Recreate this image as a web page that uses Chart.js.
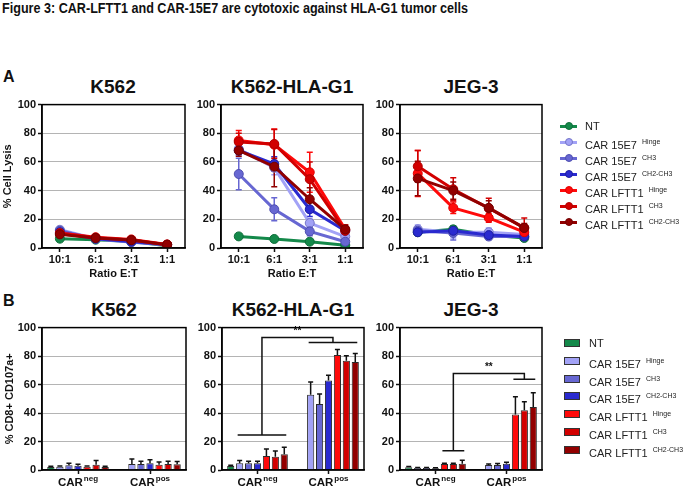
<!DOCTYPE html>
<html>
<head>
<meta charset="utf-8">
<script src="https://cdn.jsdelivr.net/npm/chart.js@4.4.1/dist/chart.umd.min.js"></script>
<style>
  body { margin: 0; width: 688px; height: 486px; background: #fff; position: relative; overflow: hidden;
         font-family: "Liberation Sans", Arial, sans-serif; color: #111; }
  canvas { position: absolute; }
  .txt { position: absolute; white-space: nowrap; }
  #fig-title { left: 2px; top: 0px; font: bold 14px "Liberation Sans Narrow", "Liberation Sans", sans-serif;
               transform-origin: 0 0; line-height: 17px; }
  .panel { font: bold 16px "Liberation Sans", sans-serif; }
  .ctitle { font: bold 19px "Liberation Sans", sans-serif; line-height: 20px; text-align: center; width: 150px; }
  .legend { position: absolute; font: 11px "Liberation Sans", sans-serif; color: #222; }
  .legend .row { position: absolute; left: 0; white-space: nowrap; height: 14px; line-height: 14px; }
  .legend sup { font-size: 7px; vertical-align: 5px; margin-left: 2px; }
  .mk-line { position: absolute; width: 17px; height: 3px; top: 5.5px; }
  .mk-dot { position: absolute; width: 8px; height: 8px; border-radius: 50%; top: 3px; left: 4.5px; box-sizing: border-box; }
  .mk-box { position: absolute; width: 16px; height: 8px; top: 3px; box-sizing: border-box; border: 1px solid #333; }
</style>
</head>
<body>
<div id="fig-title" class="txt">Figure 3: CAR-LFTT1 and CAR-15E7 are cytotoxic against HLA-G1 tumor cells</div>
<div class="txt panel" style="left:3px;top:68px;">A</div>
<div class="txt panel" style="left:3px;top:292px;">B</div>

<div class="txt ctitle" style="left:38px;top:77px;">K562</div>
<div class="txt ctitle" style="left:217px;top:77px;">K562-HLA-G1</div>
<div class="txt ctitle" style="left:396px;top:77px;">JEG-3</div>
<div class="txt ctitle" style="left:39px;top:300px;">K562</div>
<div class="txt ctitle" style="left:218px;top:300px;">K562-HLA-G1</div>
<div class="txt ctitle" style="left:396px;top:300px;">JEG-3</div>

<canvas id="lineK562" width="193" height="188" style="left:0px;top:96px;"></canvas>
<canvas id="lineHLA" width="190" height="188" style="left:181px;top:96px;"></canvas>
<canvas id="lineJEG" width="190" height="188" style="left:360px;top:96px;"></canvas>
<canvas id="barK562" width="194" height="167" style="left:0px;top:319px;"></canvas>
<canvas id="barHLA" width="190" height="167" style="left:182px;top:319px;"></canvas>
<canvas id="barJEG" width="190" height="167" style="left:360px;top:319px;"></canvas>

<div id="legendA" class="legend" style="left:560px;top:119px;"></div>
<div id="legendB" class="legend" style="left:564px;top:336px;"></div>

<script>
// ---- data ----
const ratios = ['10:1', '6:1', '3:1', '1:1'];
const carGroups = [['CAR', 'neg'], ['CAR', 'pos']];

const seriesNames = ['NT', 'CAR 15E7', 'CAR 15E7', 'CAR 15E7', 'CAR LFTT1', 'CAR LFTT1', 'CAR LFTT1'];
const seriesSups = ['', 'Hinge', 'CH3', 'CH2-CH3', 'Hinge', 'CH3', 'CH2-CH3'];
const seriesColors = ['#14894a', '#a2a2f6', '#6767d2', '#2a2acf', '#ff0a0a', '#d20000', '#920000'];
const seriesEdges = ['#0e6e3a', '#7474c8', '#4e4eb0', '#1c1ca0', '#e00000', '#b00000', '#700000'];

// A: % cell lysis (rows = series, cols = ratios)
const lysisK562 = [
  [6.5, 5.8, 4.5, 1.5], [12.7, 6.5, 4, 2.2], [12, 6.5, 4.2, 2.2], [11, 6.5, 4.5, 2.2],
  [10.4, 7.5, 6, 2.5], [10, 7.2, 5.5, 2.3], [9.5, 7, 5.5, 2.3]
];
const lysisK562Err = [
  [1.5, 1, 1, 0.5], [1.5, 1, 1, 0.5], [1, 1, 1, 0.5], [1, 1, 1, 0.5],
  [1, 1, 1, 0.5], [1, 1, 1, 0.5], [1, 1, 1, 0.5]
];
const lysisHLA = [
  [8.1, 6.3, 4.4, 2], [69, 56, 17.4, 8], [51.6, 27, 11.6, 4.4], [68, 58.6, 27, 12],
  [75, 72, 52.8, 13], [74, 72.6, 48, 12], [68, 56.7, 34, 13]
];
const lysisHLAErr = [
  [1, 1, 1, 0.5], [3, 5, 3, 2], [11, 8, 3, 2], [3, 5, 5, 3],
  [7, 11, 14, 3], [6, 10, 12, 3], [4, 14, 8, 3]
];
const lysisJEG = [
  [11, 13, 9, 7], [13, 11, 11, 9.5], [12, 10.5, 8, 8], [11, 12, 9, 8],
  [52, 28, 21, 11], [57, 41, 27.7, 14], [48.5, 40, 28, 14]
];
const lysisJEGErr = [
  [1, 1, 1, 1], [3, 4, 3, 2], [2, 5, 2, 2], [2, 3, 2, 2],
  [16, 4, 3, 2], [11, 8, 7, 7], [12, 6, 5, 3]
];

// B: % CD8+ CD107a+ (rows = series, cols = CARneg, CARpos)
const degK562 = [[2.1, null], [2.3, 4.2], [3.3, 4.2], [3, 4.7], [2.3, 3.7], [3.7, 4.2], [2.1, 4]];
const degK562Err = [[0.5, 0], [0.5, 3.5], [1.5, 2], [1, 2.5], [0.5, 2], [3, 2], [0.5, 2]];
const degHLA = [[2.8, null], [4.7, 52.8], [4.7, 46.3], [4.7, 62.8], [9.8, 80.7], [9.3, 76.7], [11, 75.8]];
const degHLAErr = [[0.5, 0], [2, 9], [1.5, 7], [1.5, 3.7], [5, 4], [4, 3.5], [5, 6]];
const degJEG = [[1.9, null], [1.4, 3.5], [1.4, 3.5], [1.2, 4.4], [4.2, 39], [4.2, 42], [4.4, 44.3]];
const degJEGErr = [[0.5, 0], [0.3, 0.8], [0.3, 1], [0.3, 1], [0.5, 12.5], [0.5, 6], [2.5, 10]];

// significance brackets: [category, first series, last series, y]
const sigHLA = [{ low: [0, 1, 6, 24.5], high: [1, 1, 6, 89.5], top: 93, label: '**' }];
const sigJEG = [{ low: [0, 4, 6, 13.5], high: [1, 4, 6, 63.8], top: 67.8, label: '**' }];

// ---- plugins ----
const frame = {
  id: 'frame',
  afterDraw(chart) {
    const a = chart.chartArea, ctx = chart.ctx;
    ctx.save();
    ctx.strokeStyle = '#000';
    ctx.lineWidth = 1.5;
    ctx.strokeRect(a.left, a.top, a.right - a.left, a.bottom - a.top);
    ctx.restore();
  }
};

function drawErrors(chart, opts) {
  const ctx = chart.ctx, y = chart.scales.y;
  chart.data.datasets.forEach((ds, i) => {
    if (!ds.errors) return;
    const meta = chart.getDatasetMeta(i);
    ctx.save();
    ctx.strokeStyle = opts.color || ds.borderColor;
    ctx.lineWidth = opts.width || 1.5;
    meta.data.forEach((el, j) => {
      const v = ds.data[j], e = ds.errors[j];
      if (v == null || !e) return;
      const x = el.x;
      const top = y.getPixelForValue(v + e);
      const bot = opts.up ? y.getPixelForValue(v) : y.getPixelForValue(v - e);
      const c = opts.cap || 3;
      ctx.beginPath();
      ctx.moveTo(x, top); ctx.lineTo(x, bot);
      ctx.moveTo(x - c, top); ctx.lineTo(x + c, top);
      if (!opts.up) { ctx.moveTo(x - c, bot); ctx.lineTo(x + c, bot); }
      ctx.stroke();
    });
    ctx.restore();
  });
}

const errorBars = {
  id: 'errorBars',
  beforeDatasetsDraw(chart, args, opts) { if (!opts.after) drawErrors(chart, opts); },
  afterDatasetsDraw(chart, args, opts) { if (opts.after) drawErrors(chart, opts); }
};

const brackets = {
  id: 'brackets',
  afterDatasetsDraw(chart, args, opts) {
    const list = opts.list || [];
    const y = chart.scales.y, ctx = chart.ctx;
    const span = (b) => [chart.getDatasetMeta(b[1]).data[b[0]].x - 2, chart.getDatasetMeta(b[2]).data[b[0]].x + 2];
    list.forEach(b => {
      const [l1, l2] = span(b.low), [h1, h2] = span(b.high);
      const lm = (l1 + l2) / 2, hm = (h1 + h2) / 2;
      const yl = y.getPixelForValue(b.low[3]), yh = y.getPixelForValue(b.high[3]), yt = y.getPixelForValue(b.top);
      ctx.save();
      ctx.strokeStyle = '#111';
      ctx.lineWidth = 1.5;
      ctx.beginPath();
      ctx.moveTo(l1, yl); ctx.lineTo(l2, yl);
      ctx.moveTo(lm, yl); ctx.lineTo(lm, yt); ctx.lineTo(hm, yt); ctx.lineTo(hm, yh);
      ctx.moveTo(h1, yh); ctx.lineTo(h2, yh);
      ctx.stroke();
      ctx.fillStyle = '#111';
      ctx.font = 'bold 10px "Liberation Sans"';
      ctx.textAlign = 'center';
      ctx.textBaseline = 'bottom';
      ctx.fillText(b.label, (lm + hm) / 2, yt - 1);
      ctx.restore();
    });
  }
};

const supLabels = {
  id: 'supLabels',
  afterDraw(chart, args, opts) {
    if (!opts.labels) return;
    const xs = chart.scales.x, ctx = chart.ctx;
    const base = chart.chartArea.bottom + 15.5;
    ctx.save();
    ctx.fillStyle = '#111';
    ctx.textBaseline = 'alphabetic';
    ctx.textAlign = 'left';
    opts.labels.forEach((lab, i) => {
      const x = xs.getPixelForTick(i);
      ctx.font = 'bold 11.5px "Liberation Sans"';
      const w1 = ctx.measureText(lab[0]).width;
      ctx.font = 'bold 8px "Liberation Sans"';
      const w2 = ctx.measureText(lab[1]).width;
      const x0 = x - (w1 + w2 + 1) / 2;
      ctx.font = 'bold 11.5px "Liberation Sans"';
      ctx.fillText(lab[0], x0, base);
      ctx.font = 'bold 8px "Liberation Sans"';
      ctx.fillText(lab[1], x0 + w1 + 1, base - 4.5);
    });
    ctx.restore();
  }
};

Chart.defaults.font.family = '"Liberation Sans", Arial, sans-serif';
Chart.defaults.font.size = 11;
Chart.defaults.font.weight = 'bold';
Chart.defaults.color = '#111';

function yScale(yWidth, title, pad) {
  return {
    min: 0, max: 100,
    afterFit: (s) => { s.width = yWidth; },
    ticks: { stepSize: 20, padding: 2, font: { size: 11, weight: 'bold' } },
    grid: {
      color: (c) => (c.tick && (c.tick.value === 0 || c.tick.value === 100)) ? 'rgba(0,0,0,0)' : '#b4b4b4',
      tickColor: '#111', tickLength: 4, tickWidth: 1.5, lineWidth: 1
    },
    border: { color: '#111', width: 1.5 },
    title: {
      display: !!title, text: title || '', font: { size: 11, weight: 'bold' },
      padding: { top: pad || 0, bottom: 0 }
    }
  };
}

function lineChart(id, values, errs, yWidth, yTitle, pad) {
  new Chart(document.getElementById(id), {
    type: 'line',
    data: {
      labels: ratios,
      datasets: values.map((v, i) => ({
        label: seriesNames[i] + ' ' + seriesSups[i],
        data: v,
        errors: errs[i],
        borderColor: seriesColors[i],
        backgroundColor: seriesColors[i],
        pointBackgroundColor: seriesColors[i],
        pointBorderColor: seriesEdges[i],
        pointBorderWidth: 1,
        pointRadius: 4.5,
        borderWidth: 3,
        tension: 0,
        order: 6 - i
      }))
    },
    options: {
      responsive: false,
      animation: false,
      events: [],
      layout: { padding: { top: 8, right: 8, left: 0, bottom: 0 } },
      plugins: {
        legend: { display: false },
        tooltip: { enabled: false },
        errorBars: { after: false, cap: 3, width: 1.5 }
      },
      scales: {
        x: {
          offset: true,
          afterFit: (s) => { s.height = 36; },
          ticks: { padding: 1, font: { size: 11, weight: 'bold' } },
          grid: { offset: false, color: 'rgba(0,0,0,0)', tickColor: '#111', tickLength: 4, tickWidth: 1.5 },
          border: { color: '#111', width: 1.5 },
          title: { display: true, text: 'Ratio E:T', font: { size: 11, weight: 'bold' }, padding: { top: 0, bottom: 3 } }
        },
        y: yScale(yWidth, yTitle, pad)
      }
    },
    plugins: [errorBars, frame]
  });
}

function barChart(id, values, errs, yWidth, yTitle, pad, sig) {
  new Chart(document.getElementById(id), {
    type: 'bar',
    data: {
      labels: carGroups.map(g => g.join('')),
      datasets: values.map((v, i) => ({
        label: seriesNames[i] + ' ' + seriesSups[i],
        data: v,
        errors: errs[i],
        backgroundColor: seriesColors[i],
        borderColor: '#2a2a2a',
        borderWidth: 1,
        categoryPercentage: 0.88,
        barPercentage: 0.8
      }))
    },
    options: {
      responsive: false,
      animation: false,
      events: [],
      layout: { padding: { top: 8, right: 8, left: 0, bottom: 0 } },
      plugins: {
        legend: { display: false },
        tooltip: { enabled: false },
        errorBars: { after: true, up: true, color: '#111', cap: 2.5, width: 1.5 },
        brackets: { list: sig || [] },
        supLabels: { labels: carGroups }
      },
      scales: {
        x: {
          afterFit: (s) => { s.height = 16; },
          ticks: { color: 'rgba(0,0,0,0)' },
          grid: { offset: false, color: 'rgba(0,0,0,0)', tickColor: '#111', tickLength: 4, tickWidth: 1.5 },
          border: { color: '#111', width: 1.5 }
        },
        y: yScale(yWidth, yTitle, pad)
      }
    },
    plugins: [errorBars, brackets, supLabels, frame]
  });
}

lineChart('lineK562', lysisK562, lysisK562Err, 42, '% Cell Lysis', 1.5);
lineChart('lineHLA', lysisHLA, lysisHLAErr, 40, null, 0);
lineChart('lineJEG', lysisJEG, lysisJEGErr, 40, null, 0);
barChart('barK562', degK562, degK562Err, 42, '% CD8+ CD107a+', 3.5, null);
barChart('barHLA', degHLA, degHLAErr, 40, null, 0, sigHLA);
barChart('barJEG', degJEG, degJEGErr, 40, null, 0, sigJEG);

// ---- legends ----
function buildLegend(el, step, kind) {
  seriesNames.forEach((name, i) => {
    const row = document.createElement('div');
    row.className = 'row';
    row.style.top = (i * step) + 'px';
    let mk;
    if (kind === 'line') {
      mk = '<span class="mk-line" style="left:0;background:' + seriesColors[i] + '"></span>' +
           '<span class="mk-dot" style="background:' + seriesColors[i] + ';border:1px solid ' + seriesEdges[i] + '"></span>';
    } else {
      mk = '<span class="mk-box" style="left:0;background:' + seriesColors[i] + '"></span>';
    }
    row.innerHTML = mk + '<span style="position:absolute;left:25px;">' + name +
      (seriesSups[i] ? ' <sup>' + seriesSups[i] + '</sup>' : '') + '</span>';
    el.appendChild(row);
  });
}
buildLegend(document.getElementById('legendA'), 16, 'line');
buildLegend(document.getElementById('legendB'), 17.8, 'box');

// fit figure title to its width in the reference
const ft = document.getElementById('fig-title');
ft.style.transform = 'scaleX(' + (466 / ft.offsetWidth) + ')';
</script>
</body>
</html>
